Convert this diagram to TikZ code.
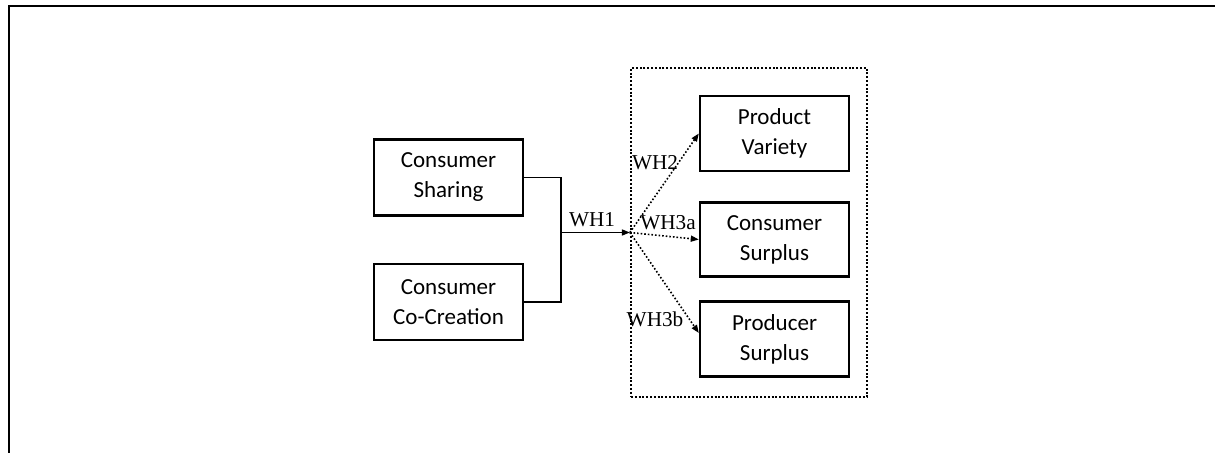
\documentclass[tikz,border=0pt]{standalone}
\usepackage{fontspec}
\setmainfont{Carlito}
\newfontfamily\timesfont{Liberation Serif}
\usetikzlibrary{arrows.meta,calc}
\begin{document}
\begin{tikzpicture}[x=0.5pt,y=-0.5pt,
 box/.style={draw,line width=1.2pt,minimum width=74.5pt,minimum height=38pt,align=center,
   font=\fontsize{11.5}{15}\selectfont,inner sep=0pt},
 lbl/.style={font=\timesfont\fontsize{10.6}{12}\selectfont,inner sep=0pt},
 conn/.style={line width=0.75pt},
 solidarrow/.style={conn,-{Triangle[length=4pt,width=3pt]}},
 dotarrow/.style={line width=0.8pt,dash pattern=on 0.8pt off 1pt,-{Triangle[length=4pt,width=3pt]}},
 group/.style={draw,line width=1.1pt,dash pattern=on 1pt off 0.9pt,inner sep=0pt},
]
\useasboundingbox (0,0) rectangle (1215,453);
\draw[line width=1pt] (9,453) -- (9,6.5) -- (1215,6.5);

\node[box] (share) at (448.5,177.5) {Consumer\\Sharing};
\node[box] (cocr) at (448.5,302) {Consumer\\Co-Creation};
\node[group,minimum width=118pt,minimum height=164.5pt] (grp) at (749,232.5) {};
\node[box,minimum height=37.5pt] (pv) at (774.5,133.5) {Product\\Variety};
\node[box,minimum height=37pt] (cs) at (774.5,239.5) {Consumer\\Surplus};
\node[box,minimum height=37.5pt] (ps) at (774.5,339) {Producer\\Surplus};

\coordinate (j) at (561,232.5);
\draw[conn] (share.east) -| (j);
\draw[conn] (cocr.east) -| (j);
\draw[solidarrow] (j) -- (grp.west);

\draw[dotarrow] (grp.west) -- (pv.west);
\draw[dotarrow] (grp.west) -- (cs.west);
\draw[dotarrow] (grp.west) -- ([yshift=3pt]ps.west);

\node[lbl] (l1) at (592,220) {WH1};
\node[lbl] (l2) at (655,163) {WH2};
\node[lbl] (l3) at (668,223) {WH3a};
\node[lbl] (l4) at (655,319) {WH3b};
\end{tikzpicture}
\end{document}
